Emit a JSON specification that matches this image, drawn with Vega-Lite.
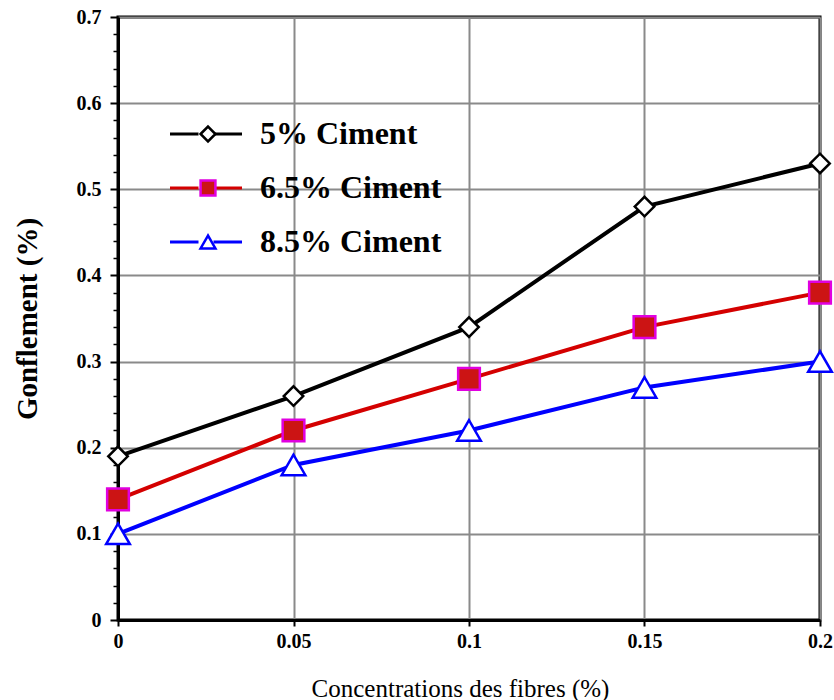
{
  "$schema": "https://vega.github.io/schema/vega-lite/v6.json",
  "width": 702,
  "height": 603,
  "autosize": {"type": "none"},
  "padding": {"left": 118, "top": 17, "right": 14, "bottom": 80},
  "background": "white",
  "config": {
    "font": "Liberation Serif",
    "view": {"stroke": "black", "strokeWidth": 3}
  },
  "data": {
    "values": [
      {"x": 0, "y": 0.19, "s": "5% Ciment"},
      {"x": 0.05, "y": 0.26, "s": "5% Ciment"},
      {"x": 0.1, "y": 0.34, "s": "5% Ciment"},
      {"x": 0.15, "y": 0.48, "s": "5% Ciment"},
      {"x": 0.2, "y": 0.53, "s": "5% Ciment"},
      {"x": 0, "y": 0.14, "s": "6.5% Ciment"},
      {"x": 0.05, "y": 0.22, "s": "6.5% Ciment"},
      {"x": 0.1, "y": 0.28, "s": "6.5% Ciment"},
      {"x": 0.15, "y": 0.34, "s": "6.5% Ciment"},
      {"x": 0.2, "y": 0.38, "s": "6.5% Ciment"},
      {"x": 0, "y": 0.10, "s": "8.5% Ciment"},
      {"x": 0.05, "y": 0.18, "s": "8.5% Ciment"},
      {"x": 0.1, "y": 0.22, "s": "8.5% Ciment"},
      {"x": 0.15, "y": 0.27, "s": "8.5% Ciment"},
      {"x": 0.2, "y": 0.30, "s": "8.5% Ciment"}
    ]
  },
  "encoding": {
    "x": {
      "field": "x",
      "type": "quantitative",
      "scale": {"domain": [0, 0.2], "nice": false, "zero": false},
      "axis": {
        "values": [0, 0.05, 0.1, 0.15, 0.2],
        "format": "~g",
        "labelFlush": false,
        "labelOverlap": false,
        "labelFont": "Liberation Serif",
        "labelFontWeight": "bold",
        "labelFontSize": 20,
        "labelColor": "black",
        "labelPadding": 5,
        "tickSize": 6,
        "tickWidth": 2,
        "tickColor": "black",
        "domainColor": "black",
        "domainWidth": 3,
        "grid": true,
        "gridColor": "#8a8a8a",
        "gridWidth": 2,
        "gridOpacity": 1,
        "title": "Concentrations des fibres (%)",
        "titleFont": "Liberation Serif",
        "titleFontSize": 25,
        "titleFontWeight": "normal",
        "titleColor": "black",
        "titlePadding": 25,
        "titleX": 342,
        "titleAlign": "center"
      }
    }
  },
  "layer": [
    {
      "mark": {"type": "line", "strokeWidth": 4},
      "encoding": {
        "y": {
          "field": "y",
          "type": "quantitative",
          "scale": {"domain": [0, 0.7], "nice": false},
          "axis": {
            "values": [0, 0.1, 0.2, 0.3, 0.4, 0.5, 0.6, 0.7],
            "format": "~g",
            "labelFont": "Liberation Serif",
            "labelFontWeight": "bold",
            "labelFontSize": 20,
            "labelColor": "black",
            "labelPadding": 9,
            "tickSize": 8,
            "tickWidth": 2,
            "tickColor": "black",
            "domainColor": "black",
            "domainWidth": 3,
            "grid": true,
            "gridColor": "#8a8a8a",
            "gridWidth": 2,
            "gridOpacity": 1,
            "title": "Gonflement (%)",
            "titleFont": "Liberation Serif",
            "titleFontSize": 29,
            "titleFontWeight": "bold",
            "titleColor": "black",
            "titlePadding": 34
          }
        },
        "color": {
          "field": "s",
          "type": "nominal",
          "scale": {"range": ["black", "#d40000", "#0000ff"]},
          "legend": {
            "orient": "none",
            "legendX": 72,
            "legendY": 101,
            "title": null,
            "padding": 0,
            "symbolType": "M-3.6,0H-0.75M0.75,0H3.6",
            "symbolSize": 400,
            "symbolStrokeWidth": 3,
            "labelFont": "Liberation Serif",
            "labelFontSize": 32,
            "labelFontWeight": "bold",
            "labelColor": "black",
            "labelOffset": 38,
            "rowPadding": 22,
            "labelLimit": 400
          }
        }
      }
    },
    {
      "mark": {"type": "point", "strokeWidth": 2.5, "opacity": 1},
      "encoding": {
        "y": {
          "field": "y",
          "type": "quantitative",
          "axis": {
            "orient": "left",
            "values": [0.02, 0.04, 0.06, 0.08, 0.12, 0.14, 0.16, 0.18, 0.22, 0.24, 0.26, 0.28, 0.32, 0.34, 0.36, 0.38, 0.42, 0.44, 0.46, 0.48, 0.52, 0.54, 0.56, 0.58, 0.62, 0.64, 0.66, 0.68],
            "labels": false,
            "grid": false,
            "domain": false,
            "ticks": true,
            "tickSize": 5,
            "tickWidth": 1.5,
            "tickColor": "black",
            "title": null
          }
        },
        "shape": {
          "field": "s",
          "type": "nominal",
          "sort": {"field": "y", "op": "max", "order": "descending"},
          "scale": {"range": ["diamond", "square", "triangle-up"]},
          "legend": {
            "orient": "none",
            "legendX": 74,
            "legendY": 101,
            "title": null,
            "padding": 0,
            "symbolSize": 220,
            "symbolStrokeWidth": 2.5,
            "labelFont": "Liberation Serif",
            "labelFontSize": 32,
            "labelFontWeight": "bold",
            "labelColor": "transparent",
            "labelExpr": "''",
            "rowPadding": 22
          }
        },
        "fill": {
          "field": "s",
          "type": "nominal",
          "sort": {"field": "y", "op": "max", "order": "descending"},
          "scale": {"range": ["white", "#cc1414", "white"]},
          "legend": {
            "orient": "none",
            "legendX": 74,
            "legendY": 101,
            "title": null,
            "padding": 0,
            "symbolSize": 220,
            "symbolStrokeWidth": 2.5,
            "labelFont": "Liberation Serif",
            "labelFontSize": 32,
            "labelFontWeight": "bold",
            "labelColor": "transparent",
            "labelExpr": "''",
            "rowPadding": 22
          }
        },
        "stroke": {
          "field": "s",
          "type": "nominal",
          "sort": {"field": "y", "op": "max", "order": "descending"},
          "scale": {"range": ["black", "#e000e0", "#0000ff"]},
          "legend": {
            "orient": "none",
            "legendX": 74,
            "legendY": 101,
            "title": null,
            "padding": 0,
            "symbolSize": 220,
            "symbolStrokeWidth": 2.5,
            "labelFont": "Liberation Serif",
            "labelFontSize": 32,
            "labelFontWeight": "bold",
            "labelColor": "transparent",
            "labelExpr": "''",
            "rowPadding": 22
          }
        },
        "size": {
          "field": "s",
          "type": "ordinal",
          "sort": ["5% Ciment", "6.5% Ciment", "8.5% Ciment"],
          "scale": {"range": [380, 560, 480]},
          "legend": null
        }
      }
    }
  ],
  "resolve": {"axis": {"y": "independent"}}
}
